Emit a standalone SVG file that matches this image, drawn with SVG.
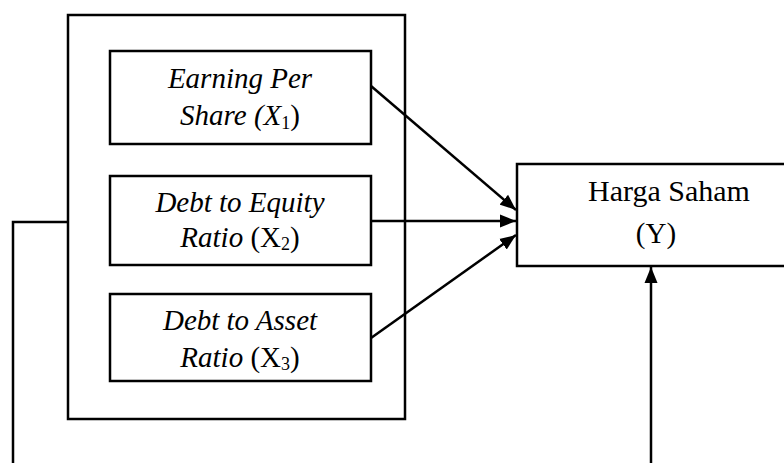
<svg xmlns="http://www.w3.org/2000/svg" width="784" height="463" viewBox="0 0 784 463">
<style>
.box{fill:none;stroke:#000;stroke-width:2.5}
.ln{fill:none;stroke:#000;stroke-width:2.5}
.t{font-family:"Liberation Serif","Times New Roman",serif;font-size:29px;fill:#000}
.h{font-size:30px}
.i{font-style:italic}
.sub{font-size:18px}
</style>
<defs>
<marker id="ah" markerUnits="userSpaceOnUse" markerWidth="17" markerHeight="14" refX="16" refY="7" orient="auto">
<path d="M0,0.5 L16,7 L0,13.5 Z" fill="#000"/>
</marker>
</defs>
<rect width="784" height="463" fill="#fff"/>
<g id="group-box">
<rect class="box" x="68" y="15" width="337" height="404"/>
</g>
<g id="eps">
<rect class="box" x="110" y="51" width="261" height="93"/>
<text class="t i" x="240" y="88" text-anchor="middle">Earning Per</text>
<text class="t" x="240" y="125" text-anchor="middle"><tspan class="i">Share (X</tspan><tspan class="sub" dy="4">1</tspan><tspan dy="-4">)</tspan></text>
</g>
<g id="der">
<rect class="box" x="110" y="176" width="261" height="89"/>
<text class="t i" x="240" y="212" text-anchor="middle">Debt to Equity</text>
<text class="t" x="240" y="247" text-anchor="middle"><tspan class="i">Ratio </tspan>(X<tspan class="sub" dy="3">2</tspan><tspan dy="-3">)</tspan></text>
</g>
<g id="dar">
<rect class="box" x="110" y="294" width="261" height="87"/>
<text class="t i" x="240" y="330" text-anchor="middle">Debt to Asset</text>
<text class="t" x="240" y="367" text-anchor="middle"><tspan class="i">Ratio </tspan>(X<tspan class="sub" dy="3">3</tspan><tspan dy="-3">)</tspan></text>
</g>
<g id="harga">
<rect class="box" x="517" y="164" width="280" height="102"/>
<text class="t h" x="669" y="201" text-anchor="middle">Harga Saham</text>
<text class="t" x="656" y="243" text-anchor="middle">(Y)</text>
</g>
<g id="connectors">
<line class="ln" x1="371" y1="86" x2="516" y2="210" marker-end="url(#ah)"/>
<line class="ln" x1="371" y1="221" x2="516" y2="221" marker-end="url(#ah)"/>
<line class="ln" x1="371" y1="338" x2="516" y2="235" marker-end="url(#ah)"/>
<polyline class="ln" points="68,222 13,222 13,465"/>
<line class="ln" x1="651" y1="465" x2="651" y2="267" marker-end="url(#ah)"/>
</g>
</svg>
